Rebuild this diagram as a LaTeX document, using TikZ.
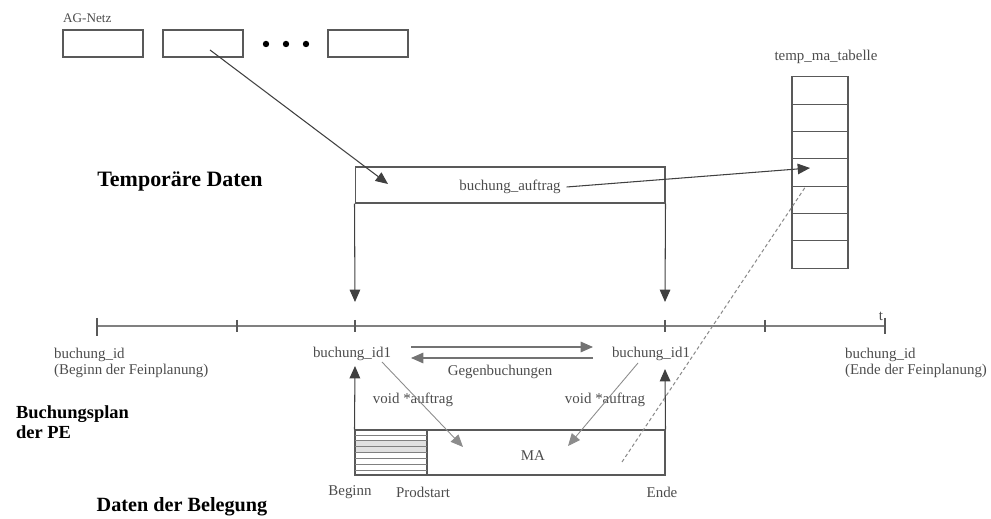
\documentclass[tikz,border=0pt]{standalone}
\usepackage{fontspec}
\setmainfont{Liberation Serif}
\usetikzlibrary{arrows.meta}

\tikzset{
    box/.style={draw=black!65, line width=0.6pt, minimum width=1.6cm, minimum height=0.54cm, inner sep=0pt},
    lbl/.style={text=black!70, font=\fontsize{8.5}{9.5}\selectfont, inner sep=1pt},
    head/.style={text=black, font=\fontsize{11.5}{13}\selectfont\bfseries, inner sep=1pt},
    arr/.style={draw=black!75, line width=0.6pt, -{Triangle[length=7pt,width=6pt]}},
    thin/.style={draw=black!45, line width=0.5pt, -{Triangle[length=7pt,width=6pt]}},
    line/.style={draw=black!65, line width=0.6pt}
}

\begin{document}
\begin{tikzpicture}[x=0.02cm, y=-0.02cm]
    \useasboundingbox (0,0) rectangle (991,519);

    % AG-Netz
    \node[lbl, font=\fontsize{7.5}{9}\selectfont, anchor=west] (agnetz) at (61,18) {AG-Netz};
    \node[box] (ag1) at (103,43.5) {};
    \node[box] (ag2) at (203,43.5) {};
    \node[box] (ag3) at (368,43.5) {};
    \foreach \x in {266,286,306}
        \fill (\x,44) circle (3.2);

    % temporaere Daten
    \node[head, font=\fontsize{12.5}{14}\selectfont\bfseries] (temp) at (180,181) {Temporäre Daten};
    \node[box, minimum width=6.2cm, minimum height=0.72cm] (auftrag) at (510,185) {};
    \node[lbl] (auftragtxt) at (510,187) {buchung\_auftrag};

    % temp_ma_tabelle
    \node[lbl] (tabtitle) at (826,57) {temp\_ma\_tabelle};
    \foreach \i in {0,...,6}
        \node[box, minimum width=1.12cm, minimum height=0.546cm] (cell\i) at (820,{90.6+27.3*\i}) {};

    \coordinate (agstart) at (210,50);
    \coordinate (aufin) at (388,184);
    \coordinate (cellin) at (810,168);
    \draw[arr] (agstart) -- (aufin);
    \draw[arr] (auftragtxt.east) ++(4,0) -- (cellin);

    % Zeitachse
    \coordinate (tl0) at (97,326);
    \coordinate (tl1) at (885,326);
    \draw[line, draw=black!50, line width=1.2pt] (tl0) -- (tl1);
    \draw[line] (97,318) -- (97,336);
    \draw[line] (885,318) -- (885,334);
    \foreach \x in {237,355,665,765}
        \draw[line] (\x,320) -- (\x,332);
    \node[lbl, anchor=south] (t) at (881,323) {t};

    \coordinate (tipl) at (355,302);
    \coordinate (tipr) at (665,302);
    \draw[arr] (auftrag.south west) -- (tipl);
    \draw[arr] (auftrag.south east) -- (tipr);

    \node[lbl, align=left, anchor=west] (idbeg) at (52,363) {buchung\_id\\(Beginn der Feinplanung)};
    \node[lbl, align=left, anchor=west] (idend) at (843,363) {buchung\_id\\(Ende der Feinplanung)};
    \node[lbl] (idl) at (352,354) {buchung\_id1};
    \node[lbl] (idr) at (651,354) {buchung\_id1};

    % Gegenbuchungen
    \coordinate (gl) at (411,347);
    \coordinate (gr) at (593,347);
    \coordinate (gl2) at (411,358);
    \coordinate (gr2) at (593,358);
    \draw[arr, draw=black!55] (gl) -- (gr);
    \draw[arr, draw=black!55] (gr2) -- (gl2);
    \node[lbl] (gegen) at (500,372) {Gegenbuchungen};

    % Belegung
    \node[box, minimum width=6.2cm, minimum height=0.9cm] (ma) at (510,452.5) {};
    \node[box, minimum width=1.44cm, minimum height=0.9cm] (prod) at (391,452.5) {};
    \fill[black!12] (356,440) rectangle (426,452);
    \foreach \y in {435,440,446,452,458,464,470}
        \draw[line, draw=black!50, line width=0.4pt] (355,\y) -- (427,\y);
    \node[lbl] (matxt) at (533,456) {MA};

    \coordinate (upl) at (355,366);
    \coordinate (upr) at (665,369);
    \draw[arr] (ma.north west) -- (upl);
    \draw[arr] (ma.north east) -- (upr);

    \node[lbl] (voidl) at (413,400) {void *auftrag};
    \node[lbl] (voidr) at (605,400) {void *auftrag};
    \coordinate (vl0) at (382,362);
    \coordinate (vl1) at (463,447);
    \coordinate (vr0) at (638,363);
    \coordinate (vr1) at (568,446);
    \draw[thin] (vl0) -- (vl1);
    \draw[thin] (vr0) -- (vr1);

    \coordinate (dot0) at (622,462);
    \coordinate (dot1) at (806,186);
    \draw[draw=black!45, line width=0.6pt, dash pattern=on 2pt off 1.5pt] (dot0) -- (dot1);

    \node[lbl] (beginn) at (350,492) {Beginn};
    \node[lbl] (prodstart) at (423,492) {Prodstart};
    \node[lbl] (ende) at (662,492) {Ende};

    \node[head, align=left, anchor=west, font=\fontsize{10.5}{11.5}\selectfont\bfseries] (plan) at (14,422) {Buchungsplan\\der PE};
    \node[head] (beleg) at (182,507) {Daten der Belegung};
\end{tikzpicture}
\end{document}
